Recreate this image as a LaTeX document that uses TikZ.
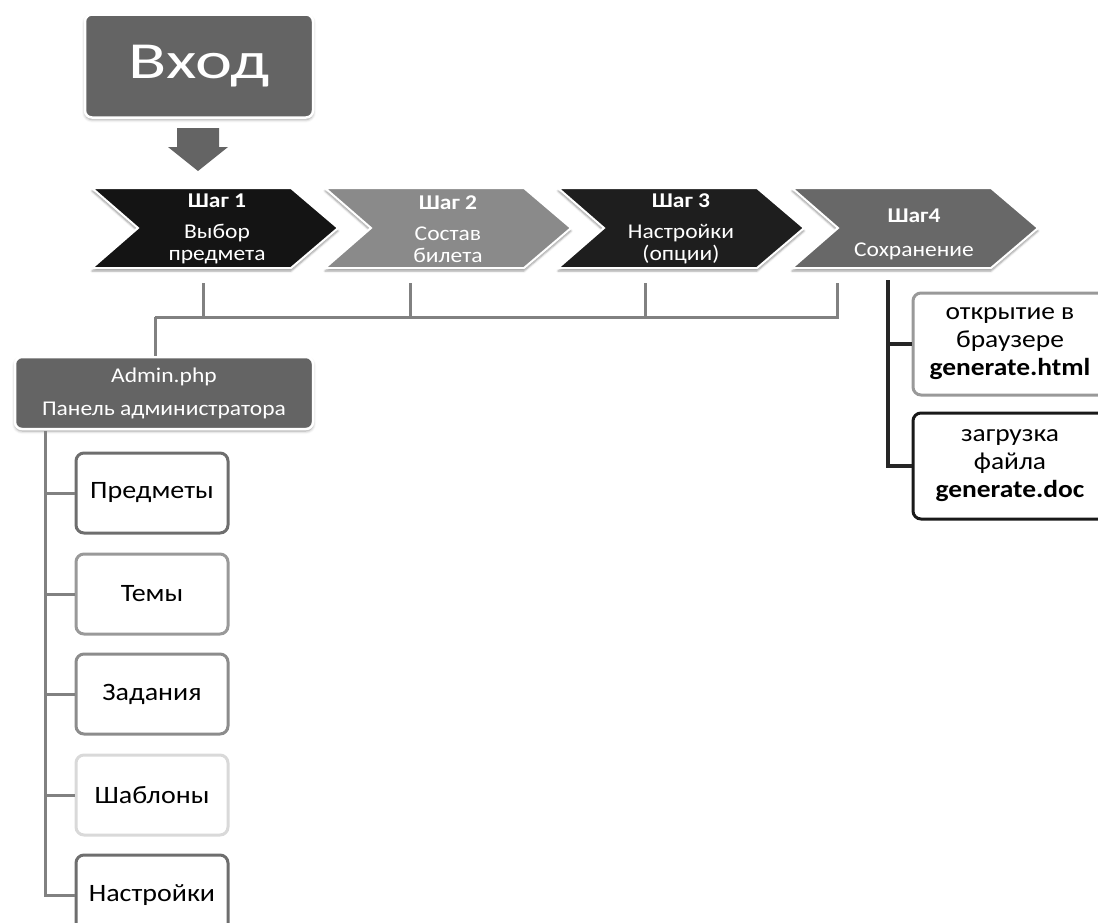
\documentclass[tikz,border=0pt]{standalone}
\usepackage{fontspec}
\setmainfont{Carlito}[FakeStretch=1.12]
\newfontfamily\widefont[FakeStretch=1.35]{Carlito}
\usetikzlibrary{positioning, calc, shadows.blur}

\definecolor{boxgray}{HTML}{646464}
\definecolor{chevA}{HTML}{141414}
\definecolor{chevB}{HTML}{8A8A8A}
\definecolor{chevC}{HTML}{1E1E1E}
\definecolor{chevD}{HTML}{686868}
\definecolor{linegray}{HTML}{818181}

\tikzset{
  darkbox/.style={fill=boxgray, draw=white, line width=2.5pt, rounded corners=7pt,
    text=white, align=center, inner sep=0pt,
    blur shadow={shadow xshift=0pt, shadow yshift=-2pt, shadow blur radius=3pt}},
  chevshape/.style={draw=white, line width=2pt,
    blur shadow={shadow xshift=0pt, shadow yshift=-3pt, shadow blur radius=2pt}},
  steptext/.style={text=white, align=center, inner sep=0pt,
    font=\fontsize{21}{22}\selectfont},
  leafbox/.style={draw, line width=3pt, rounded corners=8pt, fill=white,
    minimum width=152pt, minimum height=80pt, inner sep=0pt,
    font=\fontsize{25}{28}\selectfont},
  link/.style={draw=linegray, line width=3pt},
  darklink/.style={draw=black!85, line width=3.5pt},
}

\begin{document}
\begin{tikzpicture}[x=1pt, y=-1pt]
    \useasboundingbox (0,0) rectangle (1098,922);

    % Вход
    \node[darkbox, minimum width=228pt, minimum height=103pt,
          font=\widefont\fontsize{52}{56}\selectfont] (vhod) at (199,66) {Вход};
    \fill[boxgray] (177,128) -- (219,128) -- (219,147) -- (228,147)
        -- (198,171) -- (168,147) -- (177,147) -- cycle;

    % Шаги
    \foreach \x/\col in {92/chevA, 325/chevB, 558/chevC, 792/chevD} {
        \fill[\col, chevshape] (\x,188) -- ++(199,0) -- ++(47,40) -- ++(-47,40)
            -- ++(-199,0) -- ++(46,-40) -- cycle;
    }
    \node[steptext] (s1) at (217,229) {\textbf{Шаг 1}\\[9pt]Выбор\\предмета};
    \node[steptext] (s2) at (448,229) {\textbf{Шаг 2}\\[9pt]Состав\\билета};
    \node[steptext] (s3) at (681,229) {\textbf{Шаг 3}\\[9pt]Настройки\\(опции)};
    \node[steptext] (s4) at (914,234) {\textbf{Шаг4}\\[12pt]Сохранение};

    % Шина
    \coordinate (bus) at (155,317);
    \draw[link] (203,283) -- (203,317);
    \draw[link] (410,283) -- (410,317);
    \draw[link] (645,283) -- (645,317);
    \draw[link] (837,283) -- (837,317) -- (bus);

    % Admin.php
    \node[darkbox, minimum width=298pt, minimum height=72pt,
          font=\fontsize{21}{24}\selectfont] (admin) at (164,393)
          {Admin.php\\[9pt]Панель администратора};
    \draw[link] (bus) -- (bus |- admin.north);

    % Разделы
    \coordinate (ltop) at (45,431);
    \foreach \t/\y/\c [count=\i] in {Предметы/493/black!57, Темы/594/black!40,
        Задания/694/black!45, Шаблоны/795/black!15, Настройки/895/black!57} {
        \node[leafbox, draw=\c] (p\i) at (152,\y) {\t};
        \draw[link] (ltop) |- (p\i.west);
    }

    % Сохранение
    \coordinate (rtop) at (888,280);
    \node[leafbox, draw=black!40, minimum width=194pt, minimum height=102pt,
          align=center, font=\fontsize{24.5}{28}\selectfont] (r1) at (1010,344)
          {открытие в\\браузере\\\textbf{generate.html}};
    \node[leafbox, draw=black!90, minimum width=194pt, minimum height=106pt,
          align=center, font=\fontsize{24.5}{28}\selectfont] (r2) at (1010,466)
          {загрузка\\файла\\\textbf{generate.doc}};
    \draw[darklink] (rtop) |- (r1.west);
    \draw[darklink] (rtop) |- (r2.west);
\end{tikzpicture}
\end{document}
